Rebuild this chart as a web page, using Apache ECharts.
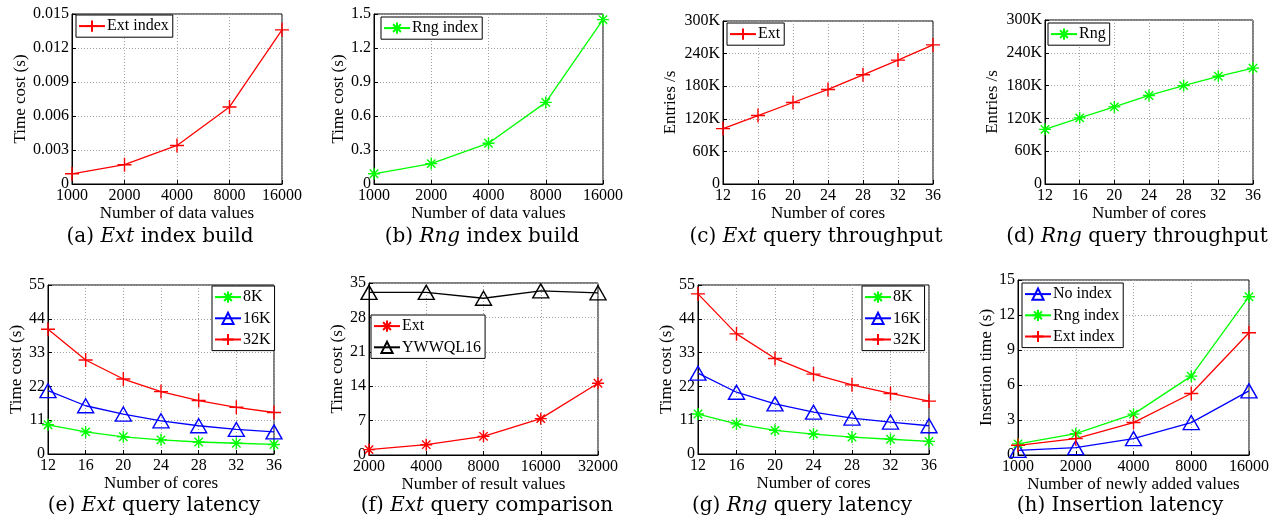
<!DOCTYPE html>
<html>
<head>
<meta charset="utf-8">
<script src="https://cdn.jsdelivr.net/npm/echarts@6/dist/echarts.min.js"></script>
<style>
html,body{margin:0;padding:0;background:#fff;}
#c{width:1283px;height:529px;}
</style>
</head>
<body>
<div id="c"></div>
<script>
// ---------- data ----------
const xDataValues   = ['1000','2000','4000','8000','16000'];
const xCores        = ['12','16','20','24','28','32','36'];
const xResultValues = ['2000','4000','8000','16000','32000'];
const xNewValues    = ['1000','2000','4000','8000','16000'];

const extIndexBuild = [0.0009, 0.0017, 0.0034, 0.0068, 0.0136];
const rngIndexBuild = [0.09, 0.18, 0.36, 0.72, 1.45];

const extThroughput = [102000, 126000, 150000, 174000, 201000, 228000, 256000];
const rngThroughput = [100000, 121000, 141000, 162000, 180000, 197000, 212000];

const extLat8K  = [9.5, 7.2, 5.6, 4.6, 3.9, 3.5, 3.1];
const extLat16K = [20.6, 15.7, 13.0, 10.8, 9.2, 8.0, 7.2];
const extLat32K = [40.6, 30.6, 24.4, 20.3, 17.4, 15.2, 13.5];

const extCmp   = [1.1, 2.1, 3.8, 7.4, 14.6];
const ywwql16  = [33.1, 33.1, 31.9, 33.4, 33.0];

const rngLat8K  = [13.0, 9.8, 7.7, 6.5, 5.5, 4.8, 4.1];
const rngLat16K = [26.3, 20.1, 16.3, 13.6, 11.7, 10.4, 9.2];
const rngLat32K = [52.1, 39.1, 31.1, 26.0, 22.5, 19.7, 17.2];

const insNoIndex  = [0.4, 0.63, 1.4, 2.78, 5.5];
const insRngIndex = [0.95, 1.83, 3.5, 6.76, 13.57];
const insExtIndex = [0.83, 1.4, 2.78, 5.27, 10.48];

const captions = [
  '(a) {i|Ext} index build', '(b) {i|Rng} index build',
  '(c) {i|Ext} query throughput', '(d) {i|Rng} query throughput',
  '(e) {i|Ext} query latency', '(f) {i|Ext} query comparison',
  '(g) {i|Rng} query latency', '(h) Insertion latency'
];

// ---------- styles ----------
const FONT = 'Liberation Serif';
const CAPFONT = 'DejaVu Serif';
const RED = '#ff0000', GREEN = '#00ff00', BLUE = '#0000ff', BLACK = '#000000';
const PLUS = 'path://M0,-1L0,1M-1,0L1,0';
const STAR = 'path://M0,-1L0,1M-1,0L1,0M-0.7,-0.7L0.7,0.7M-0.7,0.7L0.7,-0.7';
const MARK = {
  plus: {symbol: PLUS, size: 14},
  star: {symbol: STAR, size: 12},
  tri:  {symbol: 'triangle', size: [16, 14]}
};

function kfmt(v){ return v === 0 ? '0' : (v/1000) + 'K'; }

// layout for each panel: grid [left, top, width, height], legend pos, name gaps, caption centre
const panels = [
  {grid:[72,14,210,170], x:xDataValues, xName:'Number of data values', yName:'Time cost (s)', yMax:0.015, yInt:0.003, yGap:43, xGap:20,
   legend:[76,15], cap:[160,239],
   series:[{name:'Ext index', data:extIndexBuild, color:RED, mark:'plus'}]},
  {grid:[374,14,229,170], x:xDataValues, xName:'Number of data values', yName:'Time cost (s)', yMax:1.5, yInt:0.3, yGap:25, xGap:20,
   legend:[381,17], cap:[482,239],
   series:[{name:'Rng index', data:rngIndexBuild, color:GREEN, mark:'star'}]},
  {grid:[723,21,210,163], x:xCores, xName:'Number of cores', yName:'Entries /s', yMax:300000, yInt:60000, yGap:44, xGap:20, fmt:kfmt,
   legend:[727,23], cap:[816,239],
   series:[{name:'Ext', data:extThroughput, color:RED, mark:'plus'}]},
  {grid:[1045,20,208,164], x:xCores, xName:'Number of cores', yName:'Entries /s', yMax:300000, yInt:60000, yGap:44, xGap:20, fmt:kfmt,
   legend:[1048,23], cap:[1137,239],
   series:[{name:'Rng', data:rngThroughput, color:GREEN, mark:'star'}]},
  {grid:[48,285,226,169], x:xCores, xName:'Number of cores', yName:'Time cost (s)', yMax:55, yInt:11, yGap:22, xGap:19,
   legend:[212,286], cap:[154,508],
   series:[{name:'8K', data:extLat8K, color:GREEN, mark:'star'},
           {name:'16K', data:extLat16K, color:BLUE, mark:'tri'},
           {name:'32K', data:extLat32K, color:RED, mark:'plus'}]},
  {grid:[369,283,229,172], x:xResultValues, xName:'Number of result values', yName:'Time cost (s)', yMax:35, yInt:7, yGap:23, xGap:18,
   legend:[371,315], cap:[487,508],
   series:[{name:'Ext', data:extCmp, color:RED, mark:'star'},
           {name:'YWWQL16', data:ywwql16, color:BLACK, mark:'tri'}]},
  {grid:[698,285,231,169], x:xCores, xName:'Number of cores', yName:'Time cost (s)', yMax:55, yInt:11, yGap:22, xGap:19,
   legend:[862,286], cap:[802,508],
   series:[{name:'8K', data:rngLat8K, color:GREEN, mark:'star'},
           {name:'16K', data:rngLat16K, color:BLUE, mark:'tri'},
           {name:'32K', data:rngLat32K, color:RED, mark:'plus'}]},
  {grid:[1018,280,231,175], x:xNewValues, xName:'Number of newly added values', yName:'Insertion time (s)', yMax:15, yInt:3, yGap:21, xGap:18,
   legend:[1022,283], cap:[1120,508],
   series:[{name:'No index', data:insNoIndex, color:BLUE, mark:'tri'},
           {name:'Rng index', data:insRngIndex, color:GREEN, mark:'star'},
           {name:'Ext index', data:insExtIndex, color:RED, mark:'plus'}]}
];

const option = {
  animation: false,
  backgroundColor: '#fff',
  textStyle: {fontFamily: FONT, color: '#000'},
  grid: [], xAxis: [], yAxis: [], series: [], legend: [], title: []
};

const dotted = {color: '#a0a0a0', width: 1, type: [1, 2]};
const CAPSIZE = 20;

panels.forEach((p, i) => {
  const key = String.fromCharCode(97 + i);
  option.grid.push({
    left: p.grid[0], top: p.grid[1], width: p.grid[2], height: p.grid[3],
    show: true, borderColor: '#000', borderWidth: 1, backgroundColor: '#fff',
    containLabel: false, outerBoundsMode: 'none'
  });
  option.xAxis.push({
    type: 'category', gridIndex: i, data: p.x, boundaryGap: false,
    name: p.xName, nameLocation: 'middle', nameGap: p.xGap,
    nameTextStyle: {fontFamily: FONT, fontSize: 17, color: '#000'},
    axisLine: {lineStyle: {color: '#000', width: 1}},
    axisTick: {inside: true, length: 4, lineStyle: {color: '#000'}},
    axisLabel: {fontFamily: FONT, fontSize: 16, color: '#000', margin: 4, interval: 0},
    splitLine: {show: true, lineStyle: dotted}
  });
  option.yAxis.push({
    type: 'value', gridIndex: i, min: 0, max: p.yMax, interval: p.yInt,
    name: p.yName, nameLocation: 'middle', nameGap: p.yGap, nameRotate: 90,
    nameTextStyle: {fontFamily: FONT, fontSize: 17, color: '#000'},
    axisLine: {show: true, lineStyle: {color: '#000', width: 1}},
    axisTick: {show: true, inside: true, length: 4, lineStyle: {color: '#000'}},
    axisLabel: {fontFamily: FONT, fontSize: 16, color: '#000', margin: 3, formatter: p.fmt},
    splitLine: {show: true, lineStyle: dotted}
  });
  const names = [];
  p.series.forEach(s => {
    const m = MARK[s.mark];
    const nm = key + ':' + s.name;
    names.push(nm);
    option.series.push({
      type: 'line', name: nm, xAxisIndex: i, yAxisIndex: i, data: s.data,
      symbol: m.symbol, symbolSize: m.size, showSymbol: true, showAllSymbol: true,
      lineStyle: {color: s.color, width: 1.3},
      itemStyle: {color: 'none', borderColor: s.color, borderWidth: 1.4},
      emphasis: {disabled: true}, z: 3
    });
  });
  option.legend.push({
    data: names, orient: 'vertical', left: p.legend[0], top: p.legend[1],
    formatter: n => n.slice(2),
    backgroundColor: '#fff', borderColor: '#000', borderWidth: 1,
    padding: [3, 4, 3, 2], itemGap: 5, itemWidth: 26, itemHeight: 14,
    selectedMode: false,
    textStyle: {fontFamily: FONT, fontSize: 16, color: '#000', padding: [0, 0, 0, -3]}
  });
  option.title.push({
    text: captions[i], left: p.cap[0], top: p.cap[1] - CAPSIZE / 2 - 2, textAlign: 'center', padding: 0,
    textStyle: {fontFamily: CAPFONT, fontSize: CAPSIZE, fontWeight: 'normal', color: '#000',
      rich: {i: {fontFamily: CAPFONT, fontSize: CAPSIZE, fontStyle: 'italic', color: '#000'}}}
  });
});

const chart = echarts.init(document.getElementById('c'), null, {renderer: 'canvas'});
chart.setOption(option);
</script>
</body>
</html>
